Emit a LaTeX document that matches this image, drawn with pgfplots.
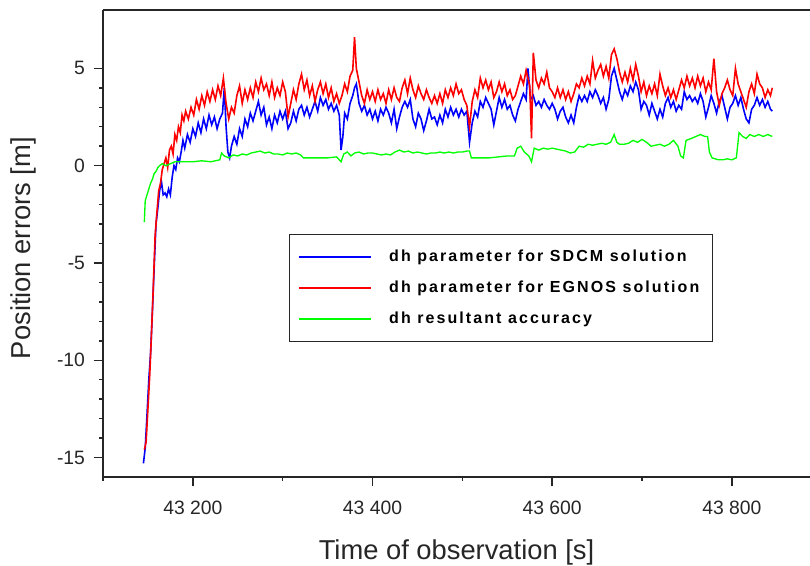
\documentclass[border=0pt]{standalone}
\usepackage{fontspec}
\setmainfont{Liberation Sans}
\newfontfamily\legfont[LetterSpace=13]{Liberation Sans}
\usepackage{pgfplots}
\pgfplotsset{compat=1.18}
\definecolor{sblue}{RGB}{0,0,255}
\definecolor{sred}{RGB}{255,0,0}
\definecolor{sgreen}{RGB}{0,255,0}

\begin{document}
\begin{tikzpicture}
\begin{axis}[
  scale only axis,
  width=530.25pt, height=350.25pt,
  xmin=43100, xmax=43887,
  ymin=-16, ymax=8,
  axis x line=box, axis y line=left,
  x axis line style={-}, y axis line style={-},
  xtick pos=bottom, ytick pos=left,
  axis line style={line width=1.1pt, black!85},
  tick style={line width=1.1pt, black!85},
  tick align=outside,
  major tick length=7pt, minor tick length=3pt,
  scaled x ticks=false,
  xtick={43200,43400,43600,43800},
  xticklabels={43 200,43 400,43 600,43 800},
  minor xtick={43100,43300,43500,43700},
  ytick={-15,-10,-5,0,5},
  yticklabels={-15,-10,-5,0,5},
  minor y tick num=4,
  tick label style={font=\fontsize{14.5}{16}\selectfont, black!85},
  xticklabel style={yshift=-7.5pt},
  yticklabel style={xshift=-3pt},
  xlabel={Time of observation [s]},
  ylabel={Position errors [m]},
  label style={font=\fontsize{20.5}{24}\selectfont, black!85},
  xlabel style={yshift=-12pt},
  ylabel style={at={(ticklabel cs:0.49)}, yshift=9pt},
  legend cell align=left,
  legend image code/.code={\draw[#1] (0pt,0pt) -- (54pt,0pt);},
  legend style={at={(rel axis cs:0.263,0.520)}, anchor=north west,
    draw=black!85, line width=1pt, inner xsep=6.75pt, inner ysep=11pt,
    row sep=11.75pt,
    font=\legfont\bfseries\fontsize{12}{14}\selectfont,
    nodes={inner sep=0pt, text height=9pt, text depth=2.5pt},
    /tikz/every odd column/.append style={column sep=12.75pt}},
]
% dh parameter for SDCM solution
\addplot[sblue, line width=1.2pt] coordinates {
(43145,-15.3) (43147,-14.5) (43149,-12.8) (43151,-11.0) (43153,-9.6) (43155,-7.5)
(43157,-5.2) (43159,-3.0) (43161,-2.2) (43163,-1.3) (43165,-0.8) (43167,-1.5)
(43169,-1.4) (43171,-1.6) (43173,-1.2) (43175,-1.5) (43177,-0.6) (43179,0.0)
(43181,-0.2) (43183,0.4) (43185,0.2) (43187,0.7) (43189,1.3) (43191,0.9)
(43194,1.6) (43197,1.2) (43200,1.9) (43203,1.5) (43206,2.2) (43209,1.7)
(43212,2.4) (43215,1.9) (43218,2.6) (43221,2.1) (43224,2.5) (43227,1.9)
(43230,2.4) (43233,2.7) (43235,4.0) (43237,2.0) (43239,0.7) (43241,0.4)
(43243,1.0) (43246,1.5) (43249,1.1) (43252,1.9) (43255,1.5) (43258,2.4)
(43261,2.0) (43264,2.7) (43267,2.3) (43270,2.8) (43273,3.3) (43276,2.6)
(43279,3.0) (43282,2.1) (43285,2.5) (43288,1.9) (43291,2.6) (43294,2.2)
(43297,2.8) (43300,2.4) (43303,2.8) (43306,1.9) (43309,2.2) (43312,2.8)
(43315,2.3) (43318,2.9) (43321,3.1) (43324,2.6) (43327,3.0) (43330,2.5)
(43333,2.9) (43336,3.3) (43339,2.8) (43342,3.5) (43345,3.1) (43348,3.4)
(43351,2.9) (43354,3.2) (43357,2.8) (43360,3.1) (43363,2.6) (43365,0.8)
(43367,1.5) (43369,2.7) (43372,2.4) (43375,3.2) (43378,3.6) (43380,4.0)
(43382,4.2) (43385,3.2) (43388,2.8) (43391,3.1) (43394,2.6) (43397,2.9)
(43400,2.4) (43403,2.8) (43406,2.3) (43409,2.9) (43412,2.6) (43415,3.0)
(43418,2.7) (43421,2.2) (43424,2.9) (43427,1.9) (43430,2.5) (43433,3.0)
(43436,3.3) (43439,3.0) (43442,3.4) (43445,2.4) (43448,2.0) (43451,2.7)
(43454,2.4) (43457,1.8) (43460,2.3) (43463,2.9) (43466,2.4) (43469,2.5)
(43472,2.1) (43475,2.6) (43478,2.2) (43481,2.9) (43484,2.5) (43487,3.0)
(43490,2.6) (43493,2.9) (43496,2.5) (43499,2.9) (43502,2.6) (43505,2.8)
(43508,1.2) (43511,2.2) (43514,2.8) (43517,2.5) (43520,3.3) (43523,3.0)
(43526,3.5) (43529,3.2) (43532,2.9) (43535,2.1) (43538,2.8) (43541,3.5)
(43544,3.0) (43547,3.4) (43550,2.9) (43553,3.1) (43556,2.6) (43559,2.3)
(43562,2.9) (43565,3.3) (43568,3.7) (43571,3.4) (43573,5.0) (43576,3.4)
(43579,3.6) (43582,3.1) (43585,3.3) (43588,3.0) (43591,3.4) (43594,3.1)
(43597,2.9) (43600,3.2) (43603,2.9) (43606,2.4) (43609,2.8) (43612,3.0)
(43615,2.5) (43618,2.2) (43621,2.6) (43624,2.2) (43627,3.0) (43630,3.6)
(43633,3.3) (43636,3.6) (43639,3.3) (43642,3.8) (43645,3.5) (43648,3.9)
(43651,3.6) (43654,3.2) (43657,3.5) (43660,2.9) (43663,3.4) (43666,4.6)
(43669,5.0) (43672,4.4) (43675,3.8) (43678,3.4) (43681,3.9) (43684,3.6)
(43687,4.1) (43690,3.8) (43693,4.3) (43696,3.9) (43699,2.9) (43702,3.3)
(43705,3.1) (43708,2.6) (43711,3.2) (43714,2.8) (43717,2.4) (43720,2.9)
(43723,2.5) (43726,3.2) (43729,3.5) (43732,3.0) (43735,3.3) (43738,2.8)
(43741,3.1) (43744,2.9) (43747,3.8) (43750,3.4) (43753,3.6) (43756,3.3)
(43759,3.5) (43762,3.2) (43765,3.7) (43768,3.3) (43771,2.5) (43774,3.0)
(43777,3.6) (43780,3.2) (43783,2.7) (43786,3.3) (43789,3.6) (43792,3.0)
(43795,2.4) (43798,3.0) (43801,3.2) (43804,3.6) (43807,3.1) (43810,3.5)
(43813,2.9) (43816,2.4) (43819,2.2) (43822,2.9) (43825,3.1) (43828,3.5)
(43831,3.1) (43834,3.4) (43837,3.0) (43840,3.3) (43843,2.9) (43845,2.8)
};
\addlegendentry{dh parameter for SDCM solution}
% dh parameter for EGNOS solution
\addplot[sred, line width=1.2pt] coordinates {
(43146,-14.6) (43148,-14.2) (43150,-12.5) (43152,-10.8) (43154,-8.6) (43156,-6.2)
(43158,-3.6) (43160,-2.4) (43162,-1.3) (43164,-0.9) (43166,-0.2) (43168,0.1)
(43170,0.4) (43172,-0.1) (43174,0.8) (43176,1.0) (43178,0.6) (43180,1.6)
(43182,1.3) (43184,2.0) (43186,1.7) (43188,2.6) (43190,2.3) (43192,2.8)
(43195,2.4) (43198,3.0) (43201,2.6) (43204,3.4) (43207,2.9) (43210,3.6)
(43213,3.1) (43216,3.8) (43219,3.3) (43222,3.9) (43225,3.4) (43228,4.1)
(43231,3.6) (43234,4.5) (43237,3.2) (43240,2.4) (43243,3.0) (43246,2.7)
(43249,3.6) (43252,4.1) (43255,3.2) (43258,3.9) (43261,3.4) (43264,4.0)
(43267,3.5) (43270,4.3) (43273,3.8) (43276,4.5) (43279,3.9) (43282,4.2)
(43285,3.6) (43288,4.3) (43291,3.5) (43294,4.0) (43297,3.6) (43300,4.3)
(43303,3.8) (43306,2.5) (43309,3.2) (43312,3.9) (43315,3.4) (43318,4.2)
(43321,4.7) (43324,3.9) (43327,4.4) (43330,3.6) (43333,4.1) (43336,3.3)
(43339,3.9) (43342,4.3) (43345,3.7) (43348,4.2) (43351,3.5) (43354,4.0)
(43357,3.3) (43360,3.7) (43363,3.2) (43366,3.6) (43369,4.2) (43372,3.8)
(43375,4.6) (43378,4.9) (43380,6.6) (43382,5.0) (43385,4.3) (43388,3.6)
(43391,3.2) (43394,3.9) (43397,3.4) (43400,3.8) (43403,3.3) (43406,3.9)
(43409,3.4) (43412,3.7) (43415,3.2) (43418,3.9) (43421,3.4) (43424,4.0)
(43427,3.5) (43430,3.3) (43433,4.0) (43436,4.4) (43439,3.7) (43442,4.5)
(43445,3.9) (43448,3.5) (43451,4.1) (43454,3.7) (43457,3.4) (43460,3.9)
(43463,3.5) (43466,3.2) (43469,3.6) (43472,3.2) (43475,3.7) (43478,3.2)
(43481,3.9) (43484,3.5) (43487,4.0) (43490,3.6) (43493,4.2) (43496,3.7)
(43499,3.9) (43502,3.4) (43505,3.1) (43508,2.0) (43511,3.3) (43514,3.9)
(43517,3.5) (43520,4.5) (43523,4.0) (43526,4.4) (43529,3.9) (43532,4.3)
(43535,3.5) (43538,3.8) (43541,4.3) (43544,3.8) (43547,4.2) (43550,3.6)
(43553,3.9) (43556,3.4) (43559,3.6) (43562,4.1) (43565,4.6) (43568,4.2)
(43571,4.9) (43575,4.1) (43577,1.4) (43579,5.8) (43582,4.4) (43585,4.0)
(43588,4.5) (43591,4.2) (43594,4.8) (43597,4.0) (43600,3.8) (43603,3.5)
(43606,4.0) (43609,3.5) (43612,3.9) (43615,3.4) (43618,3.8) (43621,3.3)
(43624,3.7) (43627,4.2) (43630,4.0) (43633,4.5) (43636,4.1) (43639,4.6)
(43642,4.2) (43645,5.4) (43648,4.5) (43651,4.9) (43654,5.2) (43657,4.6)
(43660,5.1) (43663,4.5) (43666,5.7) (43669,6.0) (43672,5.5) (43675,4.8)
(43678,4.3) (43681,4.8) (43684,4.3) (43687,5.0) (43690,4.4) (43693,5.2)
(43696,4.6) (43699,3.8) (43702,4.3) (43705,3.6) (43708,4.1) (43711,3.7)
(43714,4.2) (43717,3.6) (43720,4.7) (43723,4.1) (43726,3.6) (43729,4.0)
(43732,3.5) (43735,3.9) (43738,3.4) (43741,3.9) (43744,4.4) (43747,4.0)
(43750,4.6) (43753,4.1) (43756,4.5) (43759,4.0) (43762,4.6) (43765,4.1)
(43768,4.5) (43771,3.8) (43774,4.3) (43777,3.9) (43780,5.5) (43783,3.8)
(43786,3.1) (43789,3.7) (43792,4.0) (43795,4.4) (43798,3.9) (43801,3.6)
(43804,5.0) (43807,4.2) (43810,3.8) (43813,3.4) (43816,3.0) (43819,3.8)
(43822,4.2) (43825,3.7) (43828,4.7) (43831,4.2) (43834,4.0) (43837,3.5)
(43840,3.9) (43843,3.6) (43845,4.0)
};
\addlegendentry{dh parameter for EGNOS solution\hspace*{3pt}}
% dh resultant accuracy
\addplot[sgreen, line width=1pt] coordinates {
(43146,-2.9) (43147,-1.8) (43149,-1.5) (43151,-1.2) (43153,-0.9) (43155,-0.7)
(43157,-0.4) (43159,-0.3) (43161,-0.1) (43163,0.0) (43166,0.1) (43170,0.0)
(43175,0.1) (43180,0.2) (43190,0.2) (43200,0.2) (43210,0.25) (43220,0.2)
(43225,0.25) (43230,0.3) (43232,0.65) (43235,0.5) (43240,0.4) (43245,0.55)
(43250,0.5) (43255,0.6) (43260,0.55) (43265,0.65) (43270,0.7) (43275,0.75)
(43280,0.65) (43285,0.7) (43290,0.6) (43295,0.6) (43300,0.55) (43305,0.65)
(43310,0.6) (43315,0.65) (43320,0.55) (43323,0.4) (43330,0.4) (43340,0.4)
(43350,0.4) (43360,0.45) (43365,0.2) (43368,0.6) (43372,0.7) (43376,0.5)
(43380,0.65) (43385,0.7) (43390,0.6) (43395,0.65) (43400,0.65) (43405,0.6)
(43410,0.55) (43415,0.6) (43420,0.55) (43425,0.7) (43430,0.8) (43435,0.7)
(43440,0.75) (43445,0.65) (43450,0.7) (43455,0.65) (43460,0.6) (43465,0.65)
(43470,0.65) (43475,0.7) (43480,0.65) (43485,0.7) (43490,0.65) (43495,0.7)
(43500,0.7) (43505,0.75) (43508,0.75) (43510,0.4) (43520,0.4) (43530,0.4)
(43540,0.45) (43550,0.5) (43558,0.5) (43561,0.9) (43565,1.0) (43569,0.7)
(43574,0.5) (43577,0.2) (43580,0.9) (43585,0.8) (43590,0.9) (43595,0.85)
(43600,0.9) (43605,0.85) (43610,0.8) (43615,0.75) (43620,0.65) (43625,0.7)
(43630,1.0) (43635,0.95) (43640,1.1) (43645,1.05) (43650,1.1) (43655,1.15)
(43660,1.1) (43665,1.2) (43669,1.6) (43672,1.2) (43675,1.1) (43680,1.1)
(43685,1.15) (43690,1.3) (43695,1.2) (43700,1.35) (43705,1.2) (43710,1.0)
(43715,1.05) (43720,1.1) (43725,1.0) (43730,1.1) (43735,1.3) (43740,1.0)
(43743,0.5) (43746,0.4) (43749,1.3) (43755,1.4) (43760,1.5) (43765,1.6)
(43770,1.5) (43773,1.5) (43775,0.7) (43778,0.4) (43785,0.3) (43790,0.3)
(43795,0.35) (43800,0.3) (43805,0.4) (43808,1.7) (43812,1.5) (43816,1.4)
(43820,1.6) (43825,1.5) (43830,1.6) (43835,1.5) (43840,1.6) (43845,1.5)
};
\addlegendentry{dh resultant accuracy}
\end{axis}
\pgfresetboundingbox
\path[use as bounding box] (-77.25pt,-66.75pt) rectangle (530.25pt,357.75pt);
\end{tikzpicture}
\end{document}
